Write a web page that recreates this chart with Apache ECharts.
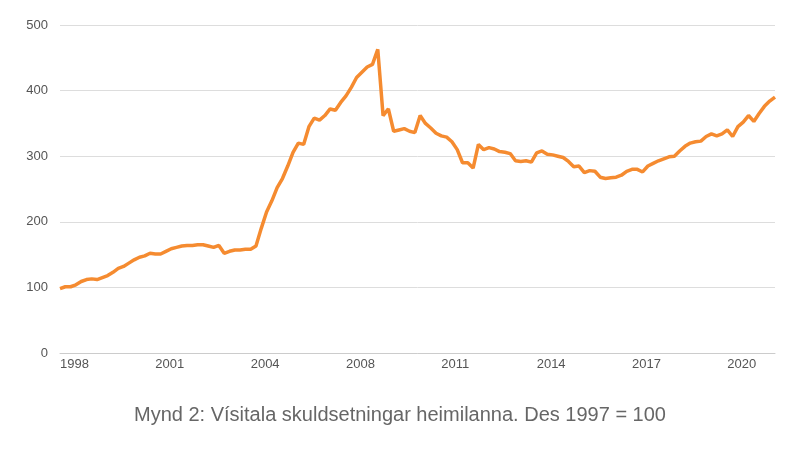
<!DOCTYPE html>
<html>
<head>
<meta charset="utf-8">
<script src="https://cdn.jsdelivr.net/npm/echarts@6/dist/echarts.min.js"></script>
<style>html,body{margin:0;padding:0;background:#fff}#chart{width:800px;height:450px}</style>
</head>
<body>
<div id="chart"></div>
<script>
// vísitala, gildi á ~2 mánaða fresti frá des 1997
var values = [98,101,101,104,109,112,113,112,115,118,123,129,132,137,142,146,148,152,151,151,
  155,159,161,163,164,164,165,165,163,161,164,152,155,157,157,158,158,163,190,215,
  232,252,266,285,306,320,318,345,358,355,362,372,370,382,392,405,420,428,436,440,
  463,362,372,338,340,342,338,336,362,350,343,335,331,329,322,310,290,290,282,318,
  310,313,311,307,306,304,293,292,293,291,305,308,303,302,300,298,292,284,285,275,
  278,277,268,266,267,268,271,277,280,280,276,285,289,293,296,299,300,308,315,320,
  322,323,330,334,331,334,340,330,345,352,362,353,365,376,384,390];
var tickLabels = ['1998','2001','2004','2008','2011','2014','2017','2020'];
var tickStep = 18;
var categories = values.map(function(v,i){ return String(i); });

var chart = echarts.init(document.getElementById('chart'));
chart.setOption({
  animation: false,
  title: {
    text: 'Mynd 2: Vísitala skuldsetningar heimilanna. Des 1997 = 100',
    left: 'center', top: 400,
    textStyle: {color: '#666', fontSize: 20, fontWeight: 'normal', fontFamily: 'Liberation Sans'}
  },
  grid: {left: 60, right: 25, top: 25, bottom: 97},
  xAxis: {
    type: 'category', boundaryGap: false, data: categories,
    axisLine: {lineStyle: {color: '#ccc'}},
    axisTick: {show: false},
    axisLabel: {
      interval: tickStep - 1, align: 'left', color: '#555', fontSize: 13, margin: 5,
      fontFamily: 'Liberation Sans',
      formatter: function(v, i){ return tickLabels[i / tickStep] || ''; }
    }
  },
  yAxis: {
    type: 'value', min: 0, max: 500, interval: 100,
    axisLabel: {color: '#555', fontSize: 13, margin: 12, fontFamily: 'Liberation Sans'},
    splitLine: {lineStyle: {color: '#ddd'}}
  },
  series: [{
    type: 'line', data: values, symbol: 'none',
    lineStyle: {color: '#f58b30', width: 3.5}
  }]
});
</script>
</body>
</html>
